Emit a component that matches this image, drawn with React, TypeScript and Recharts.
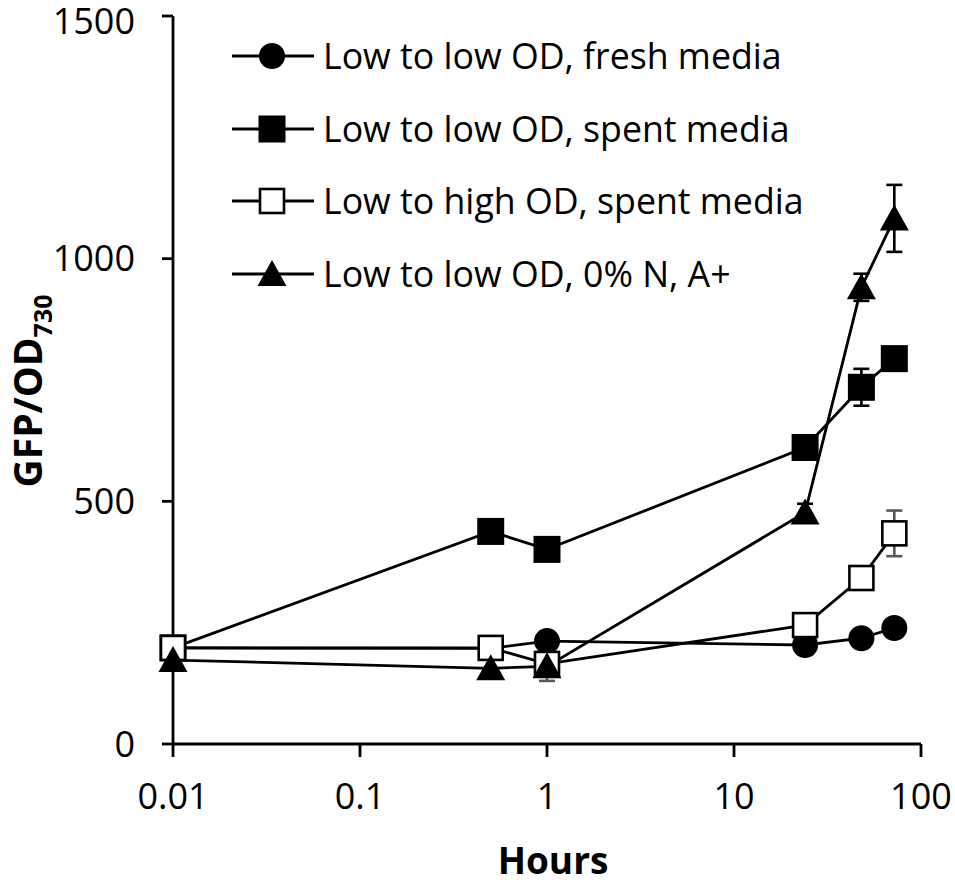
import React from "react";
import { ErrorBar, Legend, Line, LineChart, XAxis, YAxis } from "recharts";

// hours after transfer (log axis) and GFP/OD730
const hours = [0.01, 0.5, 1, 24, 48, 72];
const freshLow = [198, 197, 212, 204, 218, 239];
const spentLow = [198, 438, 401, 611, 735, 794];
const spentLowErr = [null, null, null, null, 38, null];
const spentHigh = [198, 198, 165, 245, 342, 434];
const spentHighErr = [null, null, 35, null, null, 47];
const noNitrogen = [173, 156, 160, 477, 941, 1083];
const noNitrogenErr = [null, null, null, 18, 28, 69];

const xTicks = [0.01, 0.1, 1, 10, 100];
const yTicks = [0, 500, 1000, 1500];

type Marker = "circle" | "square" | "openSquare" | "triangle";

const series: { key: string; err?: string; name: string; marker: Marker; errColor?: string }[] = [
  { key: "freshLow", name: "Low to low OD, fresh media", marker: "circle" },
  { key: "spentLow", err: "spentLowErr", name: "Low to low OD, spent media", marker: "square", errColor: "#000" },
  { key: "spentHigh", err: "spentHighErr", name: "Low to high OD, spent media", marker: "openSquare", errColor: "#595959" },
  { key: "noNitrogen", err: "noNitrogenErr", name: "Low to low OD, 0% N, A+", marker: "triangle", errColor: "#000" },
];

const data = hours.map((h, i) => ({
  h,
  freshLow: freshLow[i],
  spentLow: spentLow[i],
  spentLowErr: spentLowErr[i],
  spentHigh: spentHigh[i],
  spentHighErr: spentHighErr[i],
  noNitrogen: noNitrogen[i],
  noNitrogenErr: noNitrogenErr[i],
}));

const FONT = "'Open Sans', sans-serif";

function markerShape(kind: Marker, cx: number, cy: number, key?: string) {
  switch (kind) {
    case "circle":
      return <circle key={key} cx={cx} cy={cy} r={13} fill="#000" />;
    case "square":
      return <rect key={key} x={cx - 13.5} y={cy - 13.5} width={27} height={27} fill="#000" />;
    case "openSquare":
      return <rect key={key} x={cx - 12} y={cy - 12} width={24} height={24} fill="#fff" stroke="#000" strokeWidth={2.6} />;
    case "triangle":
      return <polygon key={key} points={`${cx},${cy - 14} ${cx - 14.5},${cy + 12} ${cx + 14.5},${cy + 12}`} fill="#000" />;
  }
}

const renderDot = (kind: Marker) => (p: any) => markerShape(kind, p.cx, p.cy, `${kind}-${p.index}`);

function ChartLegend() {
  return (
    <div style={{ fontFamily: FONT }}>
      {series.map((s) => (
        <svg key={s.key} width={620} height={72.6} style={{ display: "block" }}>
          <line x1={0} x2={82} y1={36} y2={36} stroke="#000" strokeWidth={2.8} />
          {markerShape(s.marker, 40, 36)}
          <text x={91} y={49} fontSize={35.7} fill="#000" fontFamily={FONT}>
            {s.name}
          </text>
        </svg>
      ))}
    </div>
  );
}

export default function App() {
  return (
    <div style={{ position: "absolute", left: 0, top: 0, background: "#fff" }}>
      <LineChart width={955} height={886} data={data} margin={{ top: 16, right: 34, left: 73, bottom: 42 }}>
        <XAxis
          dataKey="h"
          type="number"
          scale="log"
          domain={[0.01, 100]}
          ticks={xTicks}
          tickFormatter={(v: number) => String(v)}
          height={100}
          stroke="#000"
          strokeWidth={2.8}
          tickSize={13}
          tickMargin={26}
          tick={{ fontSize: 36, fill: "#000", fontFamily: FONT }}
          label={{
            content: () => (
              <text x={553} y={874} textAnchor="middle" fontSize={37} fontWeight={700} fontFamily={FONT} fill="#000">
                Hours
              </text>
            ),
          }}
        />
        <YAxis
          type="number"
          domain={[0, 1500]}
          ticks={yTicks}
          width={100}
          stroke="#000"
          strokeWidth={2.8}
          tickSize={11}
          tickMargin={27}
          tick={{ fontSize: 36, fill: "#000", fontFamily: FONT }}
          label={{
            content: () => (
              <text
                x={42}
                y={391}
                transform="rotate(-90, 42, 391)"
                textAnchor="middle"
                fontSize={39}
                fontWeight={700}
                fontFamily={FONT}
                fill="#000"
              >
                GFP/OD
                <tspan dy={10} fontSize={25}>
                  730
                </tspan>
              </text>
            ),
          }}
        />
        <Legend
          layout="vertical"
          align="center"
          verticalAlign="middle"
          content={() => <ChartLegend />}
          wrapperStyle={{ top: 20, left: 232, width: 620 }}
        />
        {series.map((s) => (
          <Line
            key={s.key}
            dataKey={s.key}
            name={s.name}
            type="linear"
            stroke="#000"
            strokeWidth={2.8}
            dot={renderDot(s.marker)}
            activeDot={false}
            isAnimationActive={false}
          >
            {s.err && <ErrorBar dataKey={s.err} direction="y" width={8} strokeWidth={2.6} stroke={s.errColor} />}
          </Line>
        ))}
      </LineChart>
    </div>
  );
}
